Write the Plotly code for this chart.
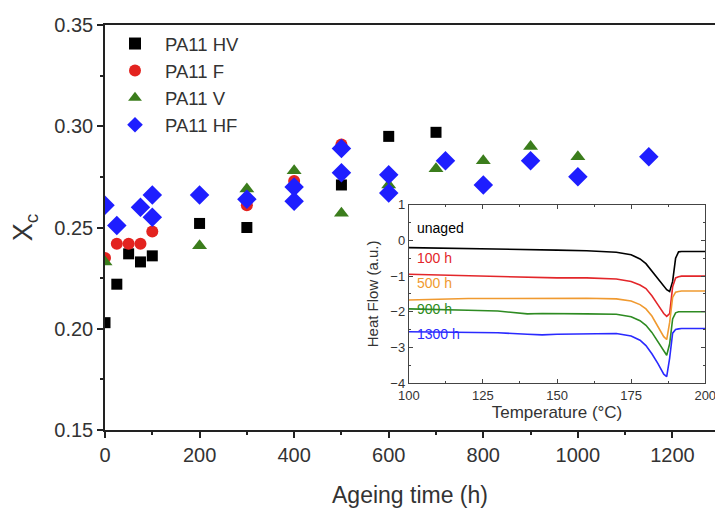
import plotly.graph_objects as go

# ---------------- main data ----------------
hv_t = [0, 25, 50, 75, 100, 200, 300, 500, 600, 700]
hv_x = [0.203, 0.222, 0.237, 0.233, 0.236, 0.252, 0.250, 0.271, 0.295, 0.297]

f_t = [0, 25, 50, 75, 100, 300, 400, 500]
f_x = [0.235, 0.242, 0.242, 0.242, 0.248, 0.261, 0.273, 0.291]

v_t = [0, 100, 200, 300, 400, 500, 600, 700, 800, 900, 1000]
v_x = [0.233, 0.256, 0.241, 0.269, 0.278, 0.257, 0.271, 0.279, 0.283, 0.290, 0.285]

hf_t = [0, 25, 75, 100, 100, 200, 300, 400, 400, 500, 500, 600, 600, 720, 800, 900, 1000, 1150]
hf_x = [0.261, 0.251, 0.260, 0.266, 0.255, 0.266, 0.264, 0.270, 0.263, 0.289, 0.277, 0.276, 0.267, 0.283, 0.271, 0.283, 0.275, 0.285]

# ---------------- inset (DSC) data ----------------
temp = [100, 110, 120, 130, 140, 145, 150, 160, 170, 175, 178, 180, 182, 184, 186, 187, 188, 189, 190, 191, 192, 200]
hf_unaged = [-0.20, -0.21, -0.23, -0.25, -0.26, -0.26, -0.27, -0.29, -0.33, -0.40, -0.52, -0.65, -0.85, -1.08, -1.28, -1.38, -1.43, -1.15, -0.50, -0.32, -0.31, -0.31]
hf_100 = [-0.95, -0.97, -1.00, -1.03, -1.05, -1.05, -1.05, -1.05, -1.08, -1.15, -1.25, -1.35, -1.55, -1.80, -2.05, -2.13, -2.05, -1.30, -1.05, -1.02, -1.00, -1.00]
hf_500 = [-1.67, -1.64, -1.63, -1.63, -1.62, -1.62, -1.62, -1.62, -1.64, -1.70, -1.80, -1.92, -2.12, -2.40, -2.70, -2.78, -2.30, -1.60, -1.45, -1.43, -1.42, -1.42]
hf_900 = [-1.92, -1.93, -1.96, -1.98, -2.06, -2.05, -2.06, -2.06, -2.07, -2.14, -2.25, -2.38, -2.58, -2.85, -3.12, -3.22, -2.90, -2.20, -2.03, -2.00, -2.00, -2.00]
hf_1300 = [-2.56, -2.57, -2.58, -2.59, -2.63, -2.65, -2.63, -2.61, -2.61, -2.68, -2.80, -2.95, -3.18, -3.45, -3.75, -3.82, -3.30, -2.60, -2.50, -2.48, -2.47, -2.47]

inset_labels = ["unaged", "100 h", "500 h", "900 h", "1300 h"]
inset_label_y = [0.08, -0.78, -1.48, -2.2, -2.9]
inset_colors = ["#000000", "#e3262a", "#f09a30", "#2e8b22", "#2a2aff"]

FONT = "Liberation Sans, Arial, sans-serif"
TXT = "#333333"

fig = go.Figure()

series = [
    ("PA11 HV", hv_t, hv_x, "square", "#000000", 11),
    ("PA11 F", f_t, f_x, "circle", "#e3231f", 12),
    ("PA11 V", v_t, v_x, "triangle-up", "#3b7d1c", 13),
    ("PA11 HF", hf_t, hf_x, "diamond", "#1e1eff", 15),
]
for i, (name, t, x, sym, col, sz) in enumerate(series):
    fig.add_trace(go.Scatter(x=t, y=x, mode="markers", name=name,
                             marker=dict(symbol=sym, color=col, size=sz, line=dict(width=0))))

for lab, ys, col in zip(inset_labels, [hf_unaged, hf_100, hf_500, hf_900, hf_1300], inset_colors):
    fig.add_trace(go.Scatter(x=temp, y=ys, mode="lines", xaxis="x2", yaxis="y2",
                             line=dict(color=col, width=1.6), showlegend=False, hoverinfo="skip"))

for lab, ly, col in zip(inset_labels, inset_label_y, inset_colors):
    fig.add_annotation(x=102, y=ly, xref="x2", yref="y2", text=lab, showarrow=False,
                       xanchor="left", yanchor="bottom", font=dict(family=FONT, size=14, color=col))

fig.update_layout(
    width=715, height=510,
    margin=dict(l=105, r=0, t=25, b=80, autoexpand=False),
    paper_bgcolor="white", plot_bgcolor="white",
    font=dict(family=FONT, color=TXT),
    showlegend=True,
    legend=dict(x=0.0, y=1.0, xanchor="left", yanchor="top", bgcolor="rgba(0,0,0,0)",
                font=dict(size=18.5, color=TXT), tracegroupgap=0, itemwidth=50,
                itemsizing="constant", traceorder="normal"),
    xaxis=dict(range=[0, 1290], tickvals=[0, 200, 400, 600, 800, 1000, 1200], automargin=False,
               ticks="outside", ticklen=6, tickwidth=1.5, tickcolor="#222",
               minor=dict(dtick=100, tick0=0, ticks="outside", ticklen=3, tickcolor="#222"),
               showline=True, linecolor="#222", linewidth=1.5, mirror=True,
               showgrid=False, zeroline=False,
               tickfont=dict(size=20, color=TXT),
               title=dict(text="Ageing time (h)", font=dict(size=23, color=TXT), standoff=22)),
    yaxis=dict(range=[0.15, 0.35], tickvals=[0.15, 0.20, 0.25, 0.30, 0.35], tickformat=".2f",
               automargin=False,
               ticks="outside", ticklen=6, tickwidth=1.5, tickcolor="#222",
               minor=dict(dtick=0.025, tick0=0.15, ticks="outside", ticklen=3, tickcolor="#222"),
               showline=True, linecolor="#222", linewidth=1.5, mirror=True,
               showgrid=False, zeroline=False,
               tickfont=dict(size=20, color=TXT),
               title=dict(text="X<sub>c</sub>", font=dict(size=27, color=TXT), standoff=14)),
    xaxis3=dict(overlaying="x", anchor="y", side="top", range=[0, 1290], automargin=False,
                tickvals=[0, 200, 400, 600, 800, 1000, 1200], ticks="inside", ticklen=6,
                tickwidth=1.5, tickcolor="#222", showticklabels=False, showgrid=False,
                zeroline=False, showline=False,
                minor=dict(dtick=100, tick0=0, ticks="inside", ticklen=3, tickcolor="#222")),
    xaxis2=dict(domain=[0.498, 0.984], anchor="y2", range=[100, 200], automargin=False,
                tickvals=[100, 125, 150, 175, 200], ticks="inside", ticklen=4, tickcolor="#444",
                minor=dict(dtick=12.5, tick0=100, ticks="inside", ticklen=2, tickcolor="#444"),
                showline=True, linecolor="#444", linewidth=1, mirror="allticks",
                showgrid=False, zeroline=False, ticklabeloverflow="allow",
                tickfont=dict(size=13, color=TXT),
                title=dict(text="Temperature (°C)", font=dict(size=17, color=TXT), standoff=2)),
    yaxis2=dict(domain=[0.116, 0.556], anchor="x2", range=[-4, 1], automargin=False,
                tickvals=[-4, -3, -2, -1, 0, 1], ticks="inside", ticklen=4, tickcolor="#444",
                minor=dict(dtick=0.5, tick0=-4, ticks="inside", ticklen=2, tickcolor="#444"),
                showline=True, linecolor="#444", linewidth=1, mirror="allticks",
                showgrid=False, zeroline=False,
                tickfont=dict(size=13, color=TXT),
                title=dict(text="Heat Flow (a.u.)", font=dict(size=15, color=TXT), standoff=8)),
)

fig.write_html("out.html", config={"displayModeBar": False},
               post_script="document.body.style.margin='0px';")
